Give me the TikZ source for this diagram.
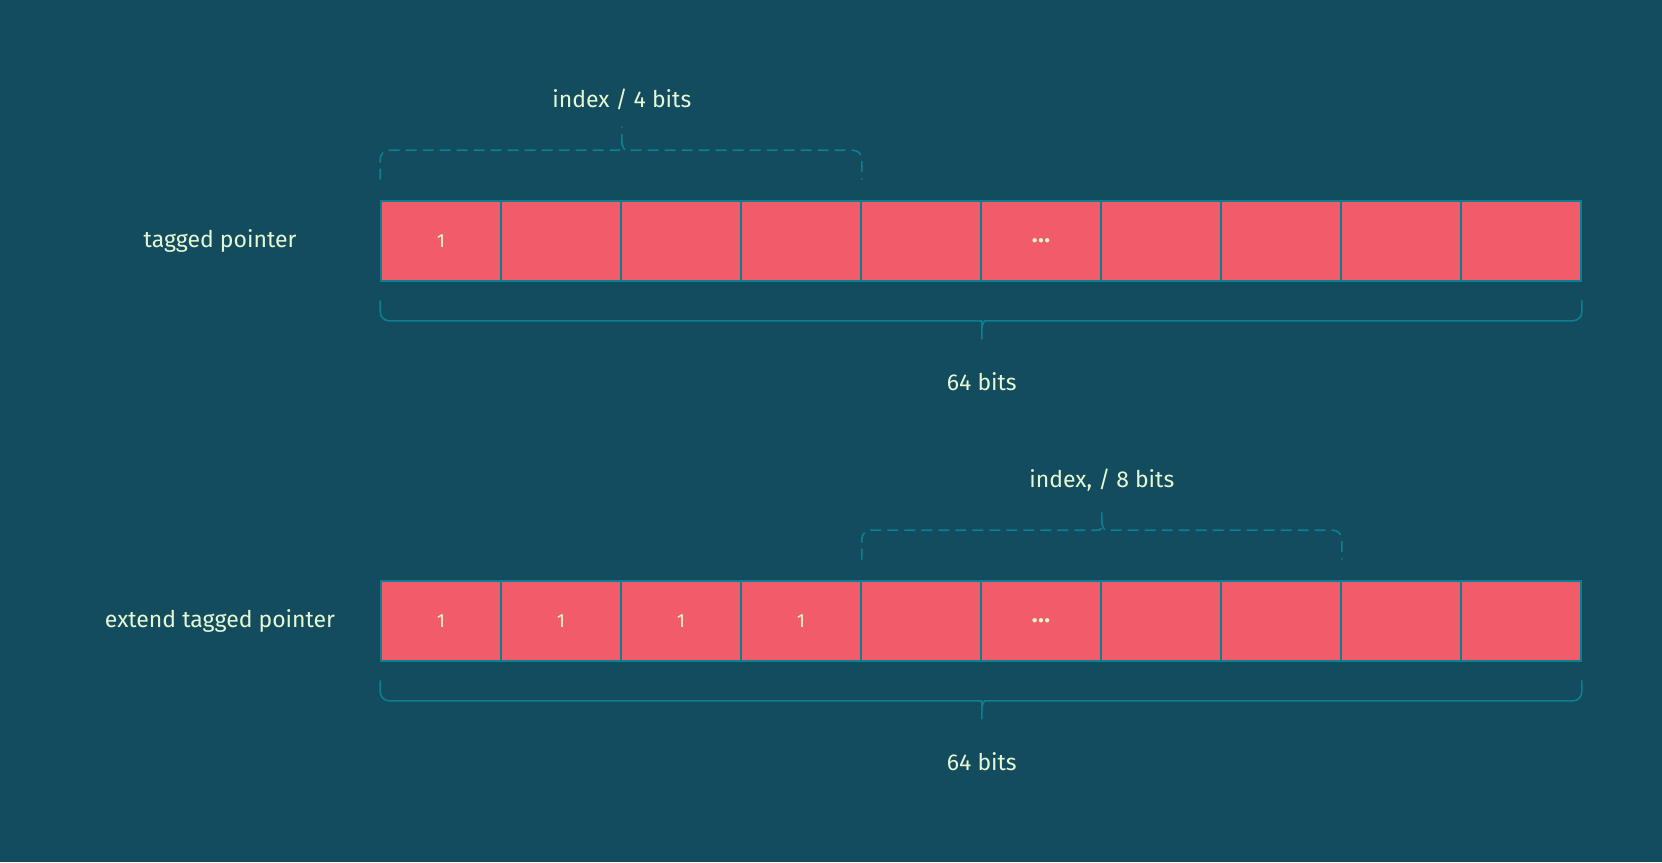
\documentclass[tikz,border=0pt]{standalone}
\usepackage{fontspec}
\setmainfont{Fira Sans}
\usetikzlibrary{calc,positioning}
\definecolor{bg}{HTML}{134B5F}
\definecolor{cellred}{HTML}{F25C6A}
\definecolor{edge}{HTML}{0C8090}
\definecolor{ink}{HTML}{E6F8D2}
\tikzset{
	cell/.style={draw=edge, fill=cellred, line width=1.6pt, minimum width=120pt,
		minimum height=80pt, inner sep=0pt, text=ink, font=\fontsize{19}{21}\selectfont},
	lbl/.style={text=ink, font=\fontsize{23}{27}\selectfont},
	brace/.style={draw=edge, line width=1.6pt, rounded corners=9pt, line cap=round},
	dbrace/.style={brace, dash pattern=on 10pt off 7pt},
}
\newcommand{\celldots}{\raisebox{-3pt}{\bfseries\fontsize{24}{26}\selectfont.\kern0.5pt.\kern0.5pt.}}

\begin{document}
\begin{tikzpicture}[x=1pt, y=-1pt]
% the background
\fill[bg] (0,0) rectangle (1662,862);
\useasboundingbox (0,0) rectangle (1662,862);

% the cells
\foreach \i/\t in {1/1,2/{},3/{},4/{},5/{},6/\celldots,7/{},8/{},9/{},10/{}}
	\node[cell] (a\i) at ({321+120*\i},241) {\t};
\foreach \i/\t in {1/1,2/1,3/1,4/1,5/{},6/\celldots,7/{},8/{},9/{},10/{}}
	\node[cell] (b\i) at ({321+120*\i},621) {\t};

% the names
\node[lbl] (na) at (220,241) {tagged pointer};
\node[lbl] (nb) at (220,621) {extend tagged pointer};

% upper brace, row a
\draw[dbrace] ($(a1.north west)+(0,-21)$) |- ($(a2.north east)+(-12,-50)$)
	.. controls +(8,0) and +(0,8) .. ($(a2.north east)+(0,-60)$) coordinate (ta) -- ++(0,-13);
\draw[dbrace] (ta) .. controls +(0,8) and +(-8,0) .. ($(a2.north east)+(12,-50)$)
	-| ($(a4.north east)+(0,-21)$);
\node[lbl] (ia) at ($(a2.north east)+(0,-101)$) {index / 4 bits};

% lower brace, row a
\draw[brace] ($(a1.south west)+(0,19)$) |- ($(a5.south east)+(-12,39)$)
	.. controls +(8,0) and +(0,-8) .. ($(a5.south east)+(0,48)$) coordinate (sa) -- ++(0,9);
\draw[brace] (sa) .. controls +(0,-8) and +(-8,0) .. ($(a5.south east)+(12,39)$)
	-| ($(a10.south east)+(0,19)$);
\node[lbl] (wa) at ($(a5.south east)+(0,100)$) {64 bits};

% upper brace, row b
\draw[dbrace] ($(b4.north east)+(0,-21)$) |- ($(b6.north east)+(-12,-50)$)
	.. controls +(8,0) and +(0,8) .. ($(b6.north east)+(0,-60)$) coordinate (tb) -- ++(0,-13);
\draw[dbrace] (tb) .. controls +(0,8) and +(-8,0) .. ($(b6.north east)+(12,-50)$)
	-| ($(b8.north east)+(0,-21)$);
\node[lbl] (ib) at ($(b6.north east)+(0,-100)$) {index, / 8 bits};

% lower brace, row b
\draw[brace] ($(b1.south west)+(0,19)$) |- ($(b5.south east)+(-12,39)$)
	.. controls +(8,0) and +(0,-8) .. ($(b5.south east)+(0,48)$) coordinate (sb) -- ++(0,9);
\draw[brace] (sb) .. controls +(0,-8) and +(-8,0) .. ($(b5.south east)+(12,39)$)
	-| ($(b10.south east)+(0,19)$);
\node[lbl] (wb) at ($(b5.south east)+(0,100)$) {64 bits};
\end{tikzpicture}
\end{document}
